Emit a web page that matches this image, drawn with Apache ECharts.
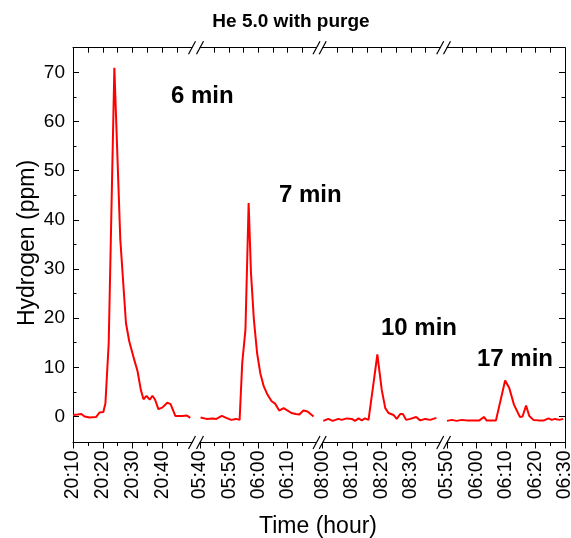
<!DOCTYPE html>
<html><head><meta charset="utf-8">
<script src="https://cdn.jsdelivr.net/npm/echarts@6/dist/echarts.min.js"></script>
<style>html,body{margin:0;padding:0;background:#fff}#c{width:571px;height:538px}</style>
</head><body><div id="c"></div>
<script>
// ---------- data ----------
const chartTitle = 'He 5.0 with purge';
const yAxisName = 'Hydrogen (ppm)';
const xAxisName = 'Time (hour)';
const yTickValues = [0, 10, 20, 30, 40, 50, 60, 70];
const yMinorValues = [5, 15, 25, 35, 45, 55, 65];
const segStart = ['20:10', '05:40', '08:00', '05:50'];
const segEnd = ['20:50', '06:20', '08:40', '06:30'];
const seg1Ticks = ['20:10', '20:20', '20:30', '20:40'];
const seg2Ticks = ['05:40', '05:50', '06:00', '06:10'];
const seg3Ticks = ['08:00', '08:10', '08:20', '08:30'];
const seg4Ticks = ['05:50', '06:00', '06:10', '06:20', '06:30'];
const peakLabels = ['6 min', '7 min', '10 min', '17 min'];

// minutes after segment start
const seg1Minutes = [0,1.5,2.8,3.9,5.6,7.8,8.9,10.2,10.9,12.0,13.9,15.9,17.8,18.9,20.6,21.7,22.8,23.7,24.7,25.8,26.7,27.6,28.7,30.0,31.7,32.8,34.4,36.7,38.3,39.4];
const seg1Values  = [0.3,0.4,0.5,0.0,-0.2,-0.1,0.8,0.9,2.7,14.9,70.9,36.0,19.0,15.3,11.5,9.2,5.4,3.5,4.2,3.4,4.2,3.4,1.5,1.8,2.8,2.5,0.1,0.1,0.2,-0.3];
const seg2Minutes = [0.2,2.2,4.4,5.6,7.5,9.0,10.7,12.4,13.6,14.5,15.6,16.7,17.5,18.5,19.6,20.7,21.9,23.2,24.6,25.8,27.2,28.7,30.1,31.4,32.9,34.1,35.5,36.9,39.0];
const seg2Values  = [-0.2,-0.5,-0.4,-0.5,0.1,-0.3,-0.7,-0.5,-0.7,10.9,17.6,43.4,29.2,19.7,12.9,8.8,6.1,4.4,3.1,2.6,1.2,1.7,1.2,0.7,0.5,0.4,1.2,1.0,0.0];
const seg3Minutes = [0.2,1.9,3.4,5.3,6.5,8.2,9.9,11.0,12.2,13.3,14.4,15.6,16.1,17.3,18.6,20.1,21.3,22.4,24.1,25.2,26.4,27.3,28.4,29.8,31.8,33.2,34.9,36.6,38.7];
const seg3Values  = [-0.9,-0.5,-0.9,-0.5,-0.7,-0.4,-0.5,-0.9,-0.4,-0.8,-0.4,-0.7,-0.5,6.8,12.6,5.4,1.7,0.7,0.3,-0.5,0.5,0.5,-0.7,-0.5,-0.1,-0.8,-0.5,-0.7,-0.3];
const seg4Minutes = [0,1.6,3.3,5.0,6.7,9.0,11.0,12.5,13.4,15.1,16.6,19.7,21.1,22.7,24.7,25.6,26.8,27.9,29.3,31.0,32.9,34.4,35.5,36.6,38.1,39.4];
const seg4Values  = [-0.9,-0.7,-0.9,-0.7,-0.8,-0.8,-0.8,-0.1,-0.8,-0.8,-0.8,7.3,5.8,2.4,-0.1,0,2.2,0.1,-0.7,-0.8,-0.8,-0.4,-0.7,-0.5,-0.7,-0.5];

// ---------- layout / style ----------
const FONT = '"Liberation Sans", Arial, sans-serif';
const gridTop = 47.7, gridHeight = 394.8;
const gridBoxes = [
  {left: 73, width: 119},
  {left: 200, width: 116.5},
  {left: 322.7, width: 117.5},
  {left: 447, width: 118}
];
const yMin = -5.3, yMax = 75;
const black = '#000';

const toMin = s => { const p = s.split(':'); return +p[0] * 60 + +p[1]; };
const fmt = m => { m = ((Math.round(m) % 1440) + 1440) % 1440; return String(Math.floor(m / 60)).padStart(2, '0') + ':' + String(m % 60).padStart(2, '0'); };

const segTicks = [seg1Ticks, seg2Ticks, seg3Ticks, seg4Ticks];
const segMinutes = [seg1Minutes, seg2Minutes, seg3Minutes, seg4Minutes];
const segValues = [seg1Values, seg2Values, seg3Values, seg4Values];

const grids = [], xAxes = [], yAxes = [], series = [];
const lineStyle = {color: black, width: 1};

gridBoxes.forEach((g, i) => {
  grids.push({left: g.left, width: g.width, top: gridTop, height: gridHeight, outerBoundsMode: 'none', containLabel: false});
  const min = toMin(segStart[i]), max = toMin(segEnd[i]);
  const majors = segTicks[i].map(toMin);
  const all5 = []; for (let m = min; m <= max; m += 5) all5.push(m);
  const minors = all5.filter(m => majors.indexOf(m) < 0 && m < max);
  const base = {gridIndex: i, type: 'value', min, max, splitLine: {show: false}};
  const mainX = xAxes.length;
  xAxes.push(Object.assign({}, base, {
    position: 'bottom',
    axisLine: {show: true, onZero: false, lineStyle},
    axisTick: {show: true, inside: false, length: 6, customValues: majors, lineStyle},
    axisLabel: {show: true, customValues: majors, rotate: 90, margin: 8, fontSize: 19.5, color: black, fontFamily: FONT, formatter: v => fmt(v)}
  }));
  xAxes.push(Object.assign({}, base, {
    position: 'bottom',
    axisLine: {show: false, onZero: false},
    axisTick: {show: true, inside: false, length: 3.5, customValues: minors, lineStyle},
    axisLabel: {show: false}
  }));
  xAxes.push(Object.assign({}, base, {
    position: 'top',
    axisLine: {show: true, onZero: false, lineStyle},
    axisTick: {show: true, inside: true, length: 5, customValues: all5.filter(m => m > min && m < max), lineStyle},
    axisLabel: {show: false}
  }));
  const yBase = {gridIndex: i, type: 'value', min: yMin, max: yMax, splitLine: {show: false}};
  const mainY = yAxes.length;
  if (i === 0 || i === gridBoxes.length - 1) {
    const pos = i === 0 ? 'left' : 'right';
    yAxes.push(Object.assign({}, yBase, {
      position: pos,
      axisLine: {show: true, onZero: false, lineStyle},
      axisTick: {show: true, inside: true, length: 6, customValues: yTickValues, lineStyle},
      axisLabel: {show: i === 0, customValues: yTickValues, margin: 8, fontSize: 19, color: black, fontFamily: FONT}
    }));
    yAxes.push(Object.assign({}, yBase, {
      position: pos,
      axisLine: {show: false, onZero: false},
      axisTick: {show: true, inside: true, length: 3.5, customValues: yMinorValues, lineStyle},
      axisLabel: {show: false}
    }));
  } else {
    yAxes.push(Object.assign({}, yBase, {show: false}));
  }
  series.push({
    type: 'line',
    xAxisIndex: mainX,
    yAxisIndex: mainY,
    data: segMinutes[i].map((t, k) => [min + t, segValues[i][k]]),
    showSymbol: false,
    symbol: 'none',
    lineStyle: {color: '#ff0000', width: 2},
    clip: false,
    silent: true
  });
});

// break marks "//" on top and bottom axes
const breakMarks = [];
for (let i = 0; i < gridBoxes.length - 1; i++) {
  const xs = [gridBoxes[i].left + gridBoxes[i].width, gridBoxes[i + 1].left];
  [gridTop, gridTop + gridHeight].forEach(y => {
    xs.forEach(x => {
      breakMarks.push({type: 'line', shape: {x1: x - 3.5, y1: y + 6.5, x2: x + 3.5, y2: y - 6.5}, style: {stroke: black, lineWidth: 1.2}});
    });
  });
}

const peakPos = [[171, 96], [279, 195], [381, 328], [477, 359]];
const texts = peakLabels.map((t, i) => ({
  type: 'text', x: peakPos[i][0], y: peakPos[i][1],
  style: {text: t, fill: black, font: 'bold 24px ' + FONT, textAlign: 'left', textVerticalAlign: 'middle'}
}));
texts.push({type: 'text', x: 291, y: 22, style: {text: chartTitle, fill: black, font: 'bold 19px ' + FONT, textAlign: 'center', textVerticalAlign: 'middle'}});
texts.push({type: 'text', x: 318, y: 527, style: {text: xAxisName, fill: black, font: '23px ' + FONT, textAlign: 'center', textVerticalAlign: 'middle'}});
texts.push({type: 'text', x: 28, y: 243, rotation: Math.PI / 2, style: {text: yAxisName, fill: black, font: '23px ' + FONT, textAlign: 'center', textVerticalAlign: 'middle'}});

const chart = echarts.init(document.getElementById('c'), null, {renderer: 'canvas'});
chart.setOption({
  animation: false,
  backgroundColor: '#fff',
  grid: grids,
  xAxis: xAxes,
  yAxis: yAxes,
  series: series,
  graphic: breakMarks.concat(texts)
});
</script>
</body></html>
